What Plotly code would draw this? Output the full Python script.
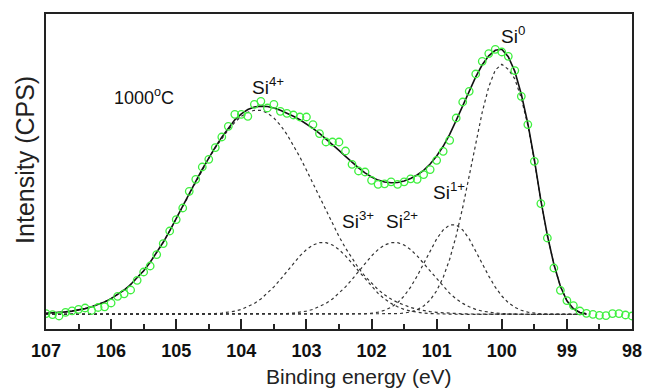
import plotly.graph_objects as go

# Binding energy grid of the measured spectrum (eV)
energy_data = [
    107.0, 106.9, 106.8, 106.7, 106.6, 106.5, 106.4, 106.3, 106.2, 106.1,
    106.0, 105.9, 105.8, 105.7, 105.6, 105.5, 105.4, 105.3, 105.2, 105.1,
    105.0, 104.9, 104.8, 104.7, 104.6, 104.5, 104.4, 104.3, 104.2, 104.1,
    104.0, 103.9, 103.8, 103.7, 103.6, 103.5, 103.4, 103.3, 103.2, 103.1,
    103.0, 102.9, 102.8, 102.7, 102.6, 102.5, 102.4, 102.3, 102.2, 102.1,
    102.0, 101.9, 101.8, 101.7, 101.6, 101.5, 101.4, 101.3, 101.2, 101.1,
    101.0, 100.9, 100.8, 100.7, 100.6, 100.5, 100.4, 100.3, 100.2, 100.1,
    100.0, 99.9, 99.8, 99.7, 99.6, 99.5, 99.4, 99.3, 99.2, 99.1,
    99.0, 98.9, 98.8, 98.7, 98.6, 98.5, 98.4, 98.3, 98.2, 98.1,
    98.0,
]
intensity_data = [
    0.7, -0.3, -1.7, 2.0, 3.5, 5.0, 6.3, 3.8, 6.8, 7.5,
    11.3, 18.0, 20.5, 24.3, 34.0, 42.3, 48.3, 59.7, 70.7, 83.3,
    94.7, 106.3, 123.0, 135.0, 147.3, 155.0, 166.7, 177.3, 188.0, 200.0,
    200.0, 198.0, 210.0, 213.0, 206.3, 210.0, 203.0, 201.0, 199.3, 197.3,
    197.3, 189.7, 180.7, 172.3, 172.3, 172.3, 163.3, 150.0, 143.3, 142.3,
    134.0, 130.0, 130.5, 132.5, 130.0, 132.5, 135.5, 135.0, 139.7, 144.7,
    154.0, 163.0, 174.0, 196.3, 212.3, 223.0, 240.3, 253.0, 260.7, 265.0,
    262.3, 258.0, 243.7, 218.0, 189.7, 153.0, 110.7, 76.3, 46.3, 24.0,
    13.7, 8.7, 3.3, 1.0, 0.0, -1.0, -1.3, 0.7, 0.7, -0.7,
    -1.7,
]

# Grid of the fitted curves (eV)
energy_fit = [
    107.0, 106.9, 106.8, 106.7, 106.6, 106.5, 106.4, 106.3, 106.2, 106.1,
    106.0, 105.9, 105.8, 105.7, 105.6, 105.5, 105.4, 105.3, 105.2, 105.1,
    105.0, 104.9, 104.8, 104.7, 104.6, 104.5, 104.4, 104.3, 104.2, 104.1,
    104.0, 103.9, 103.8, 103.7, 103.6, 103.5, 103.4, 103.3, 103.2, 103.1,
    103.0, 102.9, 102.8, 102.7, 102.6, 102.5, 102.4, 102.3, 102.2, 102.1,
    102.0, 101.9, 101.8, 101.7, 101.6, 101.5, 101.4, 101.3, 101.2, 101.1,
    101.0, 100.9, 100.8, 100.7, 100.6, 100.5, 100.4, 100.3, 100.2, 100.1,
    100.0, 99.9, 99.8, 99.7, 99.6, 99.5, 99.4, 99.3, 99.2, 99.1,
    99.0, 98.9, 98.8, 98.7,
]
envelope = [
    1.0, 1.3, 1.8, 2.4, 3.2, 4.3, 5.7, 7.5, 9.7, 12.4,
    15.7, 19.6, 24.3, 29.8, 36.2, 43.5, 52.0, 61.5, 72.0, 83.5,
    95.5, 108.0, 120.5, 133.0, 145.2, 156.4, 167.2, 177.2, 186.3, 194.5,
    200.5, 204.8, 207.3, 208.2, 207.8, 206.3, 204.0, 201.2, 198.0, 194.5,
    190.5, 186.0, 181.0, 175.5, 169.8, 164.0, 158.0, 152.0, 146.5, 141.5,
    137.3, 134.2, 132.3, 131.5, 131.8, 133.3, 135.8, 139.3, 144.0, 150.3,
    158.3, 168.0, 180.0, 194.0, 209.0, 223.5, 237.5, 249.5, 258.5, 264.0,
    265.0, 257.5, 243.0, 220.0, 191.0, 155.0, 114.0, 79.0, 50.0, 28.0,
    13.5, 5.5, 1.8, 0.5,
]
si4 = [
    1.0, 1.3, 1.8, 2.4, 3.2, 4.3, 5.7, 7.5, 9.7, 12.4,
    15.7, 19.6, 24.3, 29.8, 36.2, 43.5, 52.0, 61.5, 72.0, 83.5,
    95.5, 108.0, 120.5, 133.0, 145.0, 156.0, 166.5, 176.0, 184.5, 192.0,
    198.0, 202.0, 204.0, 204.0, 201.2, 196.3, 189.1, 180.0, 169.3, 157.2,
    144.2, 130.6, 116.9, 103.3, 90.2, 77.8, 66.2, 55.7, 46.3, 38.0,
    30.8, 24.7, 19.5, 15.2, 11.8, 9.0, 6.8, 5.0, 3.7, 2.7,
    1.9, 1.35, 0.95, 0.65, 0.45, 0.3, 0.2, 0.1, 0.1, 0.0,
    0, 0, 0, 0, 0, 0, 0, 0, 0, 0,
    0, 0, 0, 0,
]
si3 = [
    0, 0, 0, 0, 0, 0, 0, 0, 0, 0,
    0, 0, 0, 0, 0, 0, 0, 0, 0, 0,
    0, 0, 0.05, 0.1, 0.2, 0.4, 0.7, 1.2, 2.0, 3.2,
    4.9, 7.5, 10.9, 15.3, 20.9, 27.4, 34.9, 42.9, 50.9, 58.4,
    64.7, 69.3, 71.7, 71.7, 69.3, 64.7, 58.4, 50.9, 42.9, 34.9,
    27.4, 20.9, 15.3, 10.9, 7.5, 4.9, 3.2, 2.0, 1.2, 0.7,
    0.4, 0.2, 0.1, 0.05, 0, 0, 0, 0, 0, 0,
    0, 0, 0, 0, 0, 0, 0, 0, 0, 0,
    0, 0, 0, 0,
]
si2 = [
    0, 0, 0, 0, 0, 0, 0, 0, 0, 0,
    0, 0, 0, 0, 0, 0, 0, 0, 0, 0,
    0, 0, 0, 0, 0, 0, 0, 0, 0, 0,
    0, 0, 0, 0.05, 0.1, 0.2, 0.4, 0.7, 1.2, 2.0,
    3.2, 4.9, 7.5, 10.9, 15.3, 20.9, 27.4, 34.9, 42.9, 50.9,
    58.4, 64.7, 69.3, 71.7, 71.7, 69.3, 64.7, 58.4, 50.9, 42.9,
    34.9, 27.4, 20.9, 15.3, 10.9, 7.5, 4.9, 3.2, 2.0, 1.2,
    0.7, 0.4, 0.2, 0.1, 0.05, 0, 0, 0, 0, 0,
    0, 0, 0, 0,
]
si1 = [
    0, 0, 0, 0, 0, 0, 0, 0, 0, 0,
    0, 0, 0, 0, 0, 0, 0, 0, 0, 0,
    0, 0, 0, 0, 0, 0, 0, 0, 0, 0,
    0, 0, 0, 0, 0, 0, 0, 0, 0, 0,
    0, 0, 0, 0, 0, 0, 0, 0.1, 0.2, 0.5,
    1.1, 2.1, 4.0, 7.0, 11.6, 18.3, 27.2, 38.2, 50.7, 63.6,
    75.4, 84.4, 89.4, 89.4, 84.4, 75.4, 63.6, 50.7, 38.2, 27.2,
    18.3, 11.6, 7.0, 4.0, 2.1, 1.1, 0.5, 0.2, 0.1, 0,
    0, 0, 0, 0,
]
si0 = [
    0, 0, 0, 0, 0, 0, 0, 0, 0, 0,
    0, 0, 0, 0, 0, 0, 0, 0, 0, 0,
    0, 0, 0, 0, 0, 0, 0, 0, 0, 0,
    0, 0, 0, 0, 0, 0, 0, 0, 0, 0,
    0, 0, 0, 0, 0, 0, 0, 0, 0, 0,
    0, 0, 0.1, 0.3, 0.6, 1.2, 2.4, 4.6, 8.3, 14.3,
    23.5, 36.9, 55.1, 78.6, 106.8, 138.5, 171.3, 202.1, 227.5, 244.2,
    250.0, 245.0, 235.5, 216.0, 189.0, 154.0, 113.5, 79.0, 50.0, 28.0,
    13.5, 5.5, 1.8, 0.5,
]

components = [si4, si3, si2, si1, si0]

# Peak labels: text and anchor (energy, intensity)
label_text = ["Si<sup>4+</sup>", "Si<sup>3+</sup>", "Si<sup>2+</sup>", "Si<sup>1+</sup>", "Si<sup>0</sup>"]
label_x = [103.86, 102.49, 101.81, 101.08, 100.05]
label_y = [214.0, 80.0, 80.0, 109.0, 265.5]

x_ticks = [107, 106, 105, 104, 103, 102, 101, 100, 99, 98]

FONT = "Liberation Sans, Arial, sans-serif"

fig = go.Figure()

for comp in components:
    fig.add_trace(go.Scatter(
        x=energy_fit, y=comp, mode="lines",
        line=dict(color="#333333", width=1.2, dash="dot"),
        hoverinfo="skip", showlegend=False,
    ))

fig.add_trace(go.Scatter(
    x=energy_fit, y=envelope, mode="lines",
    line=dict(color="#111111", width=1.6),
    showlegend=False,
))

fig.add_trace(go.Scatter(
    x=energy_data, y=intensity_data, mode="markers",
    marker=dict(symbol="circle-open", size=7.5, color="#3ef03e", line=dict(width=1.3, color="#3ef03e")),
    showlegend=False,
))

for t, lx, ly in zip(label_text, label_x, label_y):
    fig.add_annotation(
        x=lx, y=ly, text=t, showarrow=False,
        xanchor="left", yanchor="bottom",
        font=dict(family=FONT, size=19, color="#111111"),
    )

fig.add_annotation(
    x=105.5, y=218, text="1000<sup>o</sup>C", showarrow=False,
    xanchor="center", yanchor="middle",
    font=dict(family=FONT, size=18, color="#111111"),
)

# Axis titles (placed as annotations to match the reference's offsets)
fig.add_annotation(
    xref="paper", yref="paper", x=0.5336, y=-0.152,
    text="Binding energy (eV)", showarrow=False,
    xanchor="center", yanchor="middle",
    font=dict(family=FONT, size=21, color="#222222"),
)
fig.add_annotation(
    xref="paper", yref="paper", x=-0.036, y=0.5365,
    text="Intensity (CPS)", showarrow=False, textangle=-90,
    xanchor="center", yanchor="middle",
    font=dict(family=FONT, size=25, color="#222222"),
)

fig.update_xaxes(
    range=[107, 98],
    tickvals=x_ticks,
    ticktext=[str(v) for v in x_ticks],
    ticks="inside", ticklen=10, tickwidth=1.5, tickcolor="#222222",
    minor=dict(dtick=0.5, ticks="inside", ticklen=5, tickwidth=1.5, tickcolor="#222222", showgrid=False),
    showline=True, linecolor="#222222", linewidth=1.6, mirror=True,
    showgrid=False, zeroline=False,
    ticklabelstandoff=5,
    tickfont=dict(family=FONT, size=18, color="#111111", weight="bold"),
)
fig.update_yaxes(
    range=[-14.7, 300.3],
    showticklabels=False, ticks="",
    showline=True, linecolor="#222222", linewidth=1.6, mirror=True,
    showgrid=False, zeroline=False,
)

fig.update_layout(
    width=653, height=390,
    margin=dict(l=46, r=11, t=14, b=61),
    paper_bgcolor="white", plot_bgcolor="white",
    showlegend=False,
)

fig.write_html("out.html")
